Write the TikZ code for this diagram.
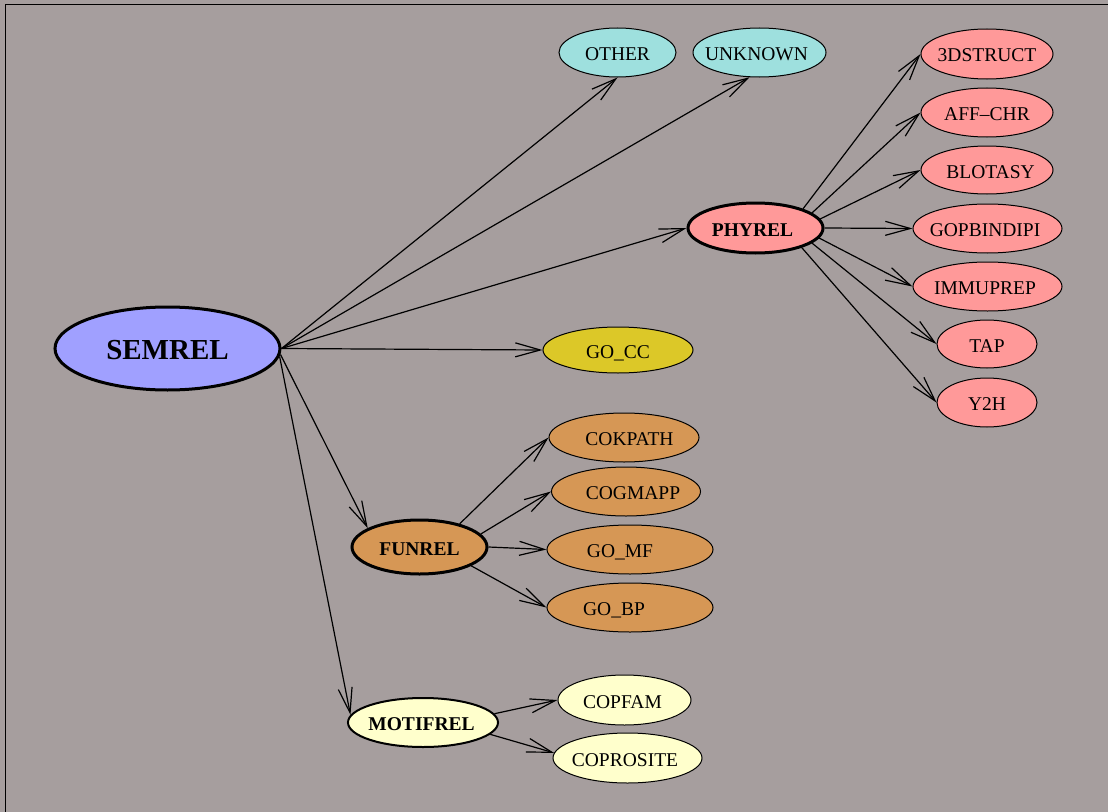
\documentclass[tikz,border=0pt]{standalone}
\usepackage{fontspec}
\setmainfont{Liberation Serif}
\usetikzlibrary{shapes.geometric,arrows.meta}

\definecolor{bgcol}{RGB}{166,158,158}
\definecolor{semcol}{RGB}{160,160,255}
\definecolor{cyancol}{RGB}{158,224,222}
\definecolor{pinkcol}{RGB}{255,153,153}
\definecolor{mustcol}{RGB}{220,200,40}
\definecolor{tancol}{RGB}{214,151,85}
\definecolor{creamcol}{RGB}{255,255,204}

% zero-width label (optionally shifted sideways) so the ellipse size
% comes only from minimum width/height
\newcommand\zw[2][0pt]{\kern#1\makebox[0pt]{#2}\kern-#1}

\begin{document}
\begin{tikzpicture}[x=1bp,y=-1bp,
  nd/.style={ellipse, draw=black, line width=1bp, inner sep=0pt,
    text height=16bp, text depth=0pt,
    font=\fontsize{19.5bp}{22bp}\selectfont},
  hub/.style={nd, line width=3bp, font=\fontsize{19.5bp}{22bp}\selectfont\bfseries},
  edge/.style={line width=1.2bp, -{Straight Barb[length=25bp,width=14bp]}},
]
\useasboundingbox (0,0) rectangle (1108,812);
\fill[bgcol] (-3,-3) rectangle (1111,815);
\draw[line width=1.3bp] (5.5,815) -- (5.5,4.5) -- (1111,4.5);

% root
\node[hub, fill=semcol, minimum width=225bp, minimum height=83bp,
      text height=22bp, font=\fontsize{29bp}{32bp}\selectfont\bfseries]
      (semrel) at (167.5,348.5) {\zw{SEMREL}};

% top level children
\node[nd, fill=cyancol, minimum width=117bp, minimum height=49bp] (other) at (617.5,52.5) {\zw{OTHER}};
\node[nd, fill=cyancol, minimum width=133bp, minimum height=49bp] (unknown) at (759.5,52.5) {\zw[-3bp]{UNKNOWN}};
\node[hub, fill=pinkcol, minimum width=135bp, minimum height=50bp] (phyrel) at (755.5,228) {\zw[-3bp]{PHYREL}};
\node[nd, fill=mustcol, minimum width=150bp, minimum height=46bp] (gocc) at (618,350) {\zw{GO\_CC}};
\node[hub, fill=tancol, minimum width=135bp, minimum height=54bp] (funrel) at (419.5,547) {\zw{FUNREL}};
\node[hub, line width=2bp, fill=creamcol, minimum width=150bp, minimum height=49bp] (motifrel) at (423,722.5) {\zw[-1.5bp]{MOTIFREL}};

% physical relations
\node[nd, fill=pinkcol, minimum width=132bp, minimum height=50bp] (sdstruct) at (987,54) {\zw{3DSTRUCT}};
\node[nd, fill=pinkcol, minimum width=132bp, minimum height=49bp] (affchr) at (987,112.5) {\zw{AFF\textendash CHR}};
\node[nd, fill=pinkcol, minimum width=132bp, minimum height=48bp] (blotasy) at (987,170) {\zw[3.5bp]{BLOTASY}};
\node[nd, fill=pinkcol, minimum width=149bp, minimum height=49bp] (gopbindipi) at (987.5,228.5) {\zw[-2.5bp]{GOPBINDIPI}};
\node[nd, fill=pinkcol, minimum width=149bp, minimum height=49bp] (immuprep) at (987.5,286.5) {\zw[-2.5bp]{IMMUPREP}};
\node[nd, fill=pinkcol, minimum width=100bp, minimum height=48bp] (tap) at (987,344) {\zw{TAP}};
\node[nd, fill=pinkcol, minimum width=100bp, minimum height=49bp] (ytwoh) at (987,402.5) {\zw{Y2H}};

% functional relations
\node[nd, fill=tancol, minimum width=150bp, minimum height=49bp] (cokpath) at (624,437.5) {\zw[5.5bp]{COKPATH}};
\node[nd, fill=tancol, minimum width=149bp, minimum height=49bp] (cogmapp) at (626,491.5) {\zw[7bp]{COGMAPP}};
\node[nd, fill=tancol, minimum width=166bp, minimum height=49bp] (gomf) at (630,549.5) {\zw[-10bp]{GO\_MF}};
\node[nd, fill=tancol, minimum width=166bp, minimum height=49bp] (gobp) at (630,607.5) {\zw[-16bp]{GO\_BP}};

% motif relations
\node[nd, fill=creamcol, minimum width=133bp, minimum height=50bp] (copfam) at (624.5,700) {\zw[-2bp]{COPFAM}};
\node[nd, fill=creamcol, minimum width=149bp, minimum height=50bp] (coprosite) at (627.5,758) {\zw[-2.5bp]{COPROSITE}};

% edges from the root
\draw[edge] (semrel.east) -- (other.south);
\draw[edge] (semrel.east) -- (unknown.248);
\draw[edge] (semrel.east) -- (phyrel.west);
\draw[edge] (semrel.east) -- (gocc.west);
\draw[edge] (semrel.-3) -- (funrel.160);
\draw[edge] (semrel.-4) -- (motifrel.174);

% edges from PHYREL
\draw[edge] (phyrel.22) -- (sdstruct.west);
\draw[edge] (phyrel.15) -- (affchr.west);
\draw[edge] (phyrel.8) -- (blotasy.west);
\draw[edge] (phyrel.east) -- (gopbindipi.west);
\draw[edge] (phyrel.-9) -- (immuprep.west);
\draw[edge] (phyrel.-15) -- (tap.west);
\draw[edge] (phyrel.-23) -- (ytwoh.west);

% edges from FUNREL
\draw[edge] (funrel.30) -- (cokpath.west);
\draw[edge] (funrel.12) -- (cogmapp.west);
\draw[edge] (funrel.east) -- (gomf.west);
\draw[edge] (funrel.-20) -- (gobp.west);

% edges from MOTIFREL
\draw[edge] (motifrel.7) -- (copfam.west);
\draw[edge] (motifrel.-10) -- (coprosite.176);
\end{tikzpicture}
\end{document}
